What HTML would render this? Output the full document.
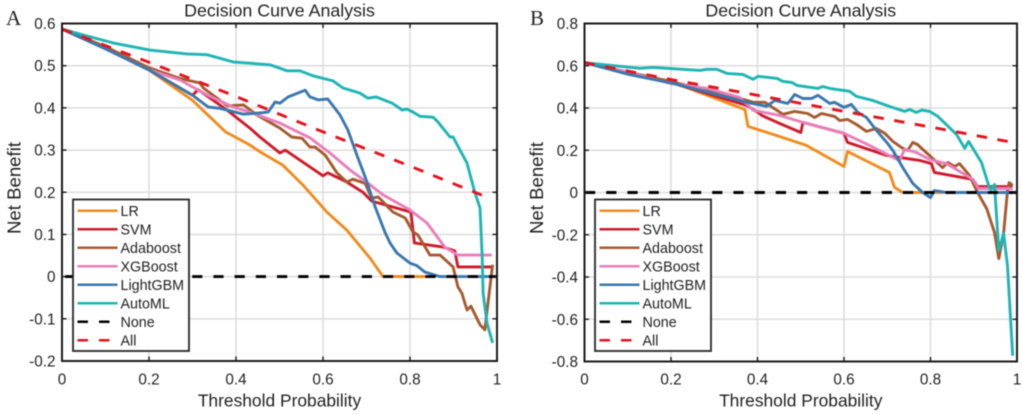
<!DOCTYPE html>
<html lang="en">
<head>
<meta charset="utf-8">
<title>Decision Curve Analysis</title>
<style>
html,body{margin:0;padding:0;background:#fff;}
body{width:1022px;height:414px;overflow:hidden;}
svg{display:block;filter:blur(0.45px);}
text{font-family:"Liberation Sans",sans-serif;fill:#1f1f1f;}
</style>
</head>
<body>
<svg id="figure" width="1022" height="414" viewBox="0 0 1022 414" xmlns="http://www.w3.org/2000/svg"></svg>
<script>
/* Shared labels */
const seriesNames = ['LR','SVM','Adaboost','XGBoost','LightGBM','AutoML','None','All'];
const xTicks = [0,0.2,0.4,0.6,0.8,1];
const xTickLabels = ['0','0.2','0.4','0.6','0.8','1'];
const yTicksA = [-0.2,-0.1,0,0.1,0.2,0.3,0.4,0.5,0.6];
const yTickLabelsA = ['-0.2','-0.1','0','0.1','0.2','0.3','0.4','0.5','0.6'];
const yTicksB = [-0.8,-0.6,-0.4,-0.2,0,0.2,0.4,0.6,0.8];
const yTickLabelsB = ['-0.8','-0.6','-0.4','-0.2','0','0.2','0.4','0.6','0.8'];

/* Panel A */
const lrAx = [0,.1,.2,.3,.376,.432,.455,.508,.554,.609,.655,.708,.738,.84];
const lrAy = [.587,.545,.49,.418,.343,.312,.296,.264,.217,.153,.11,.044,0,0];
const svmAx = [0,.1,.2,.3,.313,.379,.432,.455,.501,.513,.6,.611,.655,.692,.712,.802,.81,.876,.903,.91,.99];
const svmAy = [.587,.54,.49,.43,.443,.395,.352,.331,.293,.3,.239,.246,.224,.2,.179,.153,.08,.07,.061,.023,.023];
const adaAx = [0,.1,.2,.27,.317,.325,.38,.417,.448,.501,.528,.552,.57,.582,.605,.632,.655,.669,.697,.712,.727,.761,.789,.807,.818,.846,.869,.899,.91,.919,.931,.94,.961,.972,.99];
const adaAy = [.587,.545,.495,.47,.459,.447,.405,.407,.383,.352,.331,.328,.307,.307,.288,.246,.224,.231,.221,.186,.189,.153,.139,.106,.099,.051,.051,.023,-.024,-.039,-.079,-.07,-.114,-.126,.028];
const xgbAx = [0,.1,.2,.271,.333,.393,.432,.501,.57,.616,.662,.7,.738,.8,.839,.88,.91,.988];
const xgbAy = [.587,.54,.49,.466,.431,.402,.39,.364,.329,.293,.253,.224,.194,.158,.127,.07,.051,.051];
const lgbAx = [0,.1,.2,.3,.336,.363,.417,.455,.474,.49,.501,.52,.559,.57,.589,.611,.639,.657,.678,.697,.72,.743,.754,.77,.8,.816,.834,.869,.99];
const lgbAy = [.587,.54,.49,.43,.402,.399,.385,.388,.39,.414,.411,.426,.442,.426,.419,.421,.383,.348,.288,.236,.165,.104,.08,.056,.032,.026,.011,0,0];
const autoAx = [0,.048,.117,.202,.287,.333,.393,.432,.478,.517,.547,.577,.623,.646,.685,.703,.722,.759,.782,.793,.807,.823,.853,.864,.892,.899,.915,.931,.949,.961,.966,.968,.977,.99];
const autoAy = [.587,.573,.554,.537,.528,.526,.509,.506,.502,.488,.488,.476,.464,.447,.435,.423,.426,.411,.395,.397,.39,.38,.378,.367,.331,.331,.3,.269,.2,.163,.047,-.039,-.11,-.157];
const noneAx = [0,1];
const noneAy = [0,0];
const allAx = [0,.2,.4,.6,.8,.985];
const allAy = [.587,.508,.427,.343,.262,.185];

/* Panel B */
const lrBx = [0,.1,.2,.371,.378,.451,.513,.6,.608,.705,.717,.736,.83];
const lrBy = [.615,.57,.525,.393,.313,.265,.223,.123,.194,.095,.024,0,0];
const svmBx = [0,.105,.198,.375,.405,.41,.451,.5,.505,.6,.608,.699,.775,.802,.809,.898,.909,.99];
const svmBy = [.615,.564,.521,.412,.374,.365,.327,.284,.332,.28,.237,.175,.152,.137,.095,.062,.028,.028];
const adaBx = [0,.1,.2,.352,.39,.417,.428,.459,.486,.516,.532,.548,.578,.59,.608,.629,.652,.675,.694,.713,.733,.747,.759,.77,.828,.84,.856,.867,.89,.909,.93,.948,.958,.969,.978,.982,.99];
const adaBy = [.615,.57,.525,.45,.427,.427,.412,.37,.384,.374,.355,.374,.36,.341,.346,.322,.289,.303,.28,.242,.213,.199,.237,.227,.118,.142,.123,.137,.081,0,-.076,-.19,-.313,-.194,.009,.047,.033];
const xgbBx = [0,.1,.198,.283,.359,.39,.451,.505,.6,.659,.713,.729,.74,.767,.798,.837,.898,.911,.99];
const xgbBy = [.615,.57,.517,.493,.45,.389,.365,.332,.28,.223,.166,.152,.204,.19,.156,.137,.062,.019,.019];
const lgbBx = [0,.1,.204,.313,.375,.421,.44,.47,.486,.505,.525,.54,.567,.578,.6,.617,.632,.652,.675,.699,.713,.736,.759,.782,.8,.809,.837,.99];
const lgbBy = [.615,.56,.517,.46,.427,.408,.436,.422,.464,.445,.445,.46,.422,.427,.403,.417,.379,.355,.294,.237,.199,.118,.043,0,-.024,.009,0,0];
const autoBx = [0,.02,.128,.159,.267,.283,.306,.329,.366,.39,.401,.445,.459,.479,.491,.54,.551,.567,.613,.629,.666,.699,.74,.752,.767,.78,.798,.817,.86,.879,.888,.918,.936,.94,.948,.958,.969,.978,.99];
const autoBy = [.615,.61,.588,.592,.578,.583,.583,.564,.559,.536,.55,.54,.526,.521,.507,.493,.502,.493,.479,.455,.436,.412,.384,.393,.379,.39,.384,.36,.275,.209,.242,.142,.024,.014,.038,-.275,-.194,-.346,-.773];
const noneBx = [0,1];
const noneBy = [0,0];
const allBx = [0,.2,.4,.6,.8,.99];
const allBy = [.615,.535,.46,.384,.31,.237];

const NS = 'http://www.w3.org/2000/svg';
const fig = document.getElementById('figure');
const colors = ['#f08c1e','#cf1b2b','#a65a30','#e87fba','#3b78ae','#1fb4b4','#000000','#e2141f'];

function mk(parent, tag, attrs, txt){
  const el = document.createElementNS(NS, tag);
  for (const k in attrs) el.setAttribute(k, attrs[k]);
  if (txt !== undefined) el.textContent = txt;
  parent.appendChild(el);
  return el;
}

function drawPanel(p){
  const sx = t => p.left + (t - 0) / 1 * (p.right - p.left);
  const sy = v => p.bottom - (v - p.yMin) / (p.yMax - p.yMin) * (p.bottom - p.top);

  const g = mk(fig, 'g', {});
  
  

  const letter = mk(g, 'text', {x:p.letterX, y:25, 'font-size':21, style:'font-family:"Liberation Serif",serif;fill:#222'}, p.letter);
  
  

  const title = mk(g, 'text', {x:(p.left+p.right)/2, y:16.5, 'text-anchor':'middle', 'font-size':17.8}, 'Decision Curve Analysis');
  
  

  // gridlines
  xTicks.forEach(t => {
    if (t === 0 || t === 1) return;
    const l = mk(g, 'line', {x1:sx(t), x2:sx(t), y1:p.top, y2:p.bottom, stroke:'#dcdcdc', 'stroke-width':1.5});
    
    
  });
  p.yTicks.forEach(v => {
    if (v === p.yMin || v === p.yMax) return;
    const l = mk(g, 'line', {x1:p.left, x2:p.right, y1:sy(v), y2:sy(v), stroke:'#dcdcdc', 'stroke-width':1.5});
    
    
  });

  // series
  p.series.forEach((s, i) => {
    const pts = s.x.map((t, j) => sx(t).toFixed(1) + ',' + sy(s.y[j]).toFixed(1)).join(' ');
    const attrs = {points:pts, fill:'none', stroke:colors[i], 'stroke-width':2.9, 'stroke-linejoin':'round'};
    if (i === 6) { attrs['stroke-dasharray'] = '10.2 11'; attrs['stroke-dashoffset'] = p.noneOffset; }
    if (i === 7) { attrs['stroke-dasharray'] = '10.5 10.5'; }
    const line = mk(g, 'polyline', attrs);
    
    
  });

  // ticks
  xTicks.forEach((t, i) => {
    if (t !== 0 && t !== 1) {
      const a = mk(g, 'line', {x1:sx(t), x2:sx(t), y1:p.top, y2:p.top+4.5, stroke:'#1a1a1a', 'stroke-width':1.4});
      
      
      const b = mk(g, 'line', {x1:sx(t), x2:sx(t), y1:p.bottom-4.5, y2:p.bottom, stroke:'#1a1a1a', 'stroke-width':1.4});
      
      
    }
    const lab = mk(g, 'text', {x:sx(t), y:384.5, 'text-anchor':'middle', 'font-size':15.3}, xTickLabels[i]);
    
    
  });
  p.yTicks.forEach((v, i) => {
    if (v !== p.yMin && v !== p.yMax) {
      const a = mk(g, 'line', {x1:p.left, x2:p.left+4.5, y1:sy(v), y2:sy(v), stroke:'#1a1a1a', 'stroke-width':1.4});
      
      
      const b = mk(g, 'line', {x1:p.right-4.5, x2:p.right, y1:sy(v), y2:sy(v), stroke:'#1a1a1a', 'stroke-width':1.4});
      
      
    }
    const lab = mk(g, 'text', {x:p.left-6.5, y:sy(v)+5.5, 'text-anchor':'end', 'font-size':15.3}, p.yLabels[i]);
    
    
  });

  // axes frame
  const frame = mk(g, 'rect', {x:p.left, y:p.top, width:p.right-p.left, height:p.bottom-p.top, fill:'none', stroke:'#1a1a1a', 'stroke-width':2});
  
  

  const xt = mk(g, 'text', {x:(p.left+p.right)/2, y:406.5, 'text-anchor':'middle', 'font-size':17.4}, 'Threshold Probability');
  
  
  const yt = mk(g, 'text', {x:0, y:0, 'text-anchor':'middle', 'font-size':18.6, transform:'translate(' + (p.left-41.5) + ',188) rotate(-90)'}, 'Net Benefit');
  
  

  // legend
  const lg = mk(g, 'g', {});
  
  
  const box = mk(lg, 'rect', {x:p.legX, y:199.5, width:116, height:151.5, fill:'#fff', stroke:'#262626', 'stroke-width':1.8});
  
  
  seriesNames.forEach((name, i) => {
    const yy = 210.7 + i * 18.5;
    const dashed = i >= 6;
    const sw = mk(lg, 'line', {x1:p.legX+4.5, x2:p.legX+44.5, y1:yy, y2:yy, stroke:colors[i], 'stroke-width':2.5, 'stroke-dasharray':dashed ? '10.5 11' : 'none'});
    
    
    const tx = mk(lg, 'text', {x:p.legX+47.5, y:yy+5.2, 'font-size':14.3}, name);
    
    
  });
}

drawPanel({
  id:'a', letter:'A', letterX:6, left:62, right:497, top:23.5, bottom:361, yMin:-0.2, yMax:0.6, legX:73, noneOffset:-3,
  yTicks:yTicksA, yLabels:yTickLabelsA,
  series:[{x:lrAx,y:lrAy},{x:svmAx,y:svmAy},{x:adaAx,y:adaAy},{x:xgbAx,y:xgbAy},{x:lgbAx,y:lgbAy},{x:autoAx,y:autoAy},{x:noneAx,y:noneAy},{x:allAx,y:allAy}]
});
drawPanel({
  id:'b', letter:'B', letterX:530, left:584.5, right:1017, top:23.5, bottom:361.5, yMin:-0.8, yMax:0.8, legX:595, noneOffset:-0.5,
  yTicks:yTicksB, yLabels:yTickLabelsB,
  series:[{x:lrBx,y:lrBy},{x:svmBx,y:svmBy},{x:adaBx,y:adaBy},{x:xgbBx,y:xgbBy},{x:lgbBx,y:lgbBy},{x:autoBx,y:autoBy},{x:noneBx,y:noneBy},{x:allBx,y:allBy}]
});
</script>
</body>
</html>
